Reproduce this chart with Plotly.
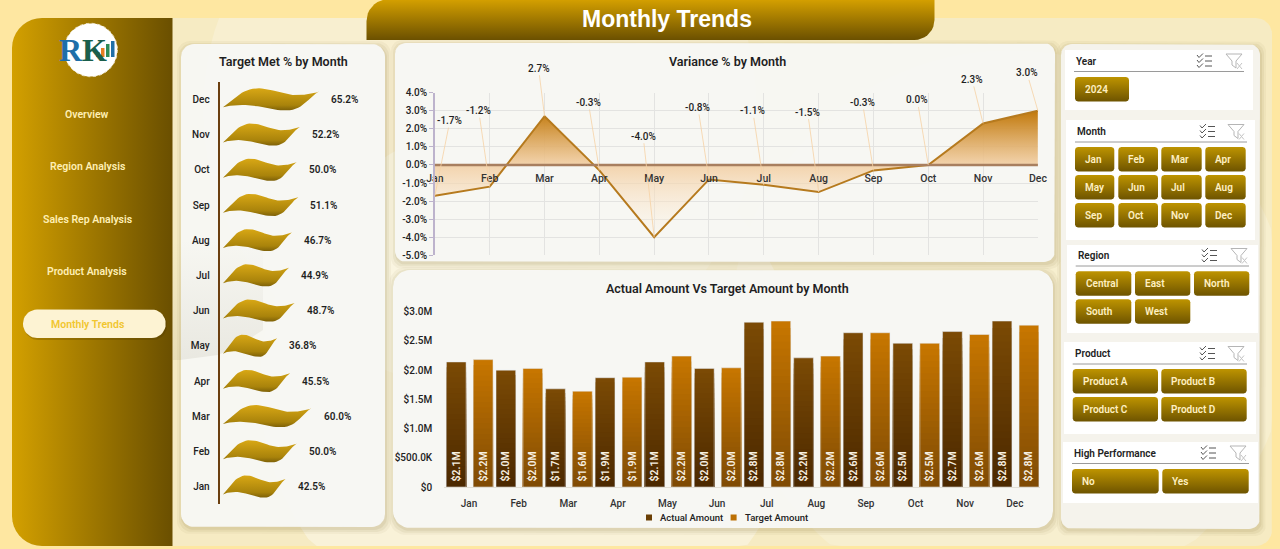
import numpy as np
import plotly.graph_objects as go

W, H = 1280, 549

MONTHS = ['Jan', 'Feb', 'Mar', 'Apr', 'May', 'Jun', 'Jul', 'Aug', 'Sep', 'Oct', 'Nov', 'Dec']
TARGET_MET_PCT = [42.5, 50.0, 60.0, 45.5, 36.8, 48.7, 44.9, 46.7, 51.1, 50.0, 52.2, 65.2]
VARIANCE_PCT = [-1.7, -1.2, 2.7, -0.3, -4.0, -0.8, -1.1, -1.5, -0.3, 0.0, 2.3, 3.0]
ACTUAL_M = [2.14, 2.00, 1.68, 1.87, 2.14, 2.03, 2.82, 2.21, 2.64, 2.46, 2.66, 2.84]
TARGET_M = [2.18, 2.03, 1.64, 1.88, 2.24, 2.04, 2.84, 2.24, 2.64, 2.46, 2.61, 2.77]

VARIANCE_TICKS = [4, 3, 2, 1, 0, -1, -2, -3, -4, -5]
AMOUNT_TICKS = [0, 0.5, 1.0, 1.5, 2.0, 2.5, 3.0]
AMOUNT_TICK_LABELS = ['$0', '$500.0K', '$1.0M', '$1.5M', '$2.0M', '$2.5M', '$3.0M']

NAV_ITEMS = ['Overview', 'Region Analysis', 'Sales Rep Analysis', 'Product Analysis', 'Monthly Trends']
YEARS = ['2024']
REGIONS = ['Central', 'East', 'North', 'South', 'West']
PRODUCTS = ['Product A', 'Product B', 'Product C', 'Product D']
HIGH_PERF = ['No', 'Yes']

# pixel offsets of the hand-placed variance labels, relative to their points
LABEL_DX = [15, -11, -6, -11, -11, -11, -11, -11, -11, -11, -11, -11]
LABEL_DY = [-75, -76, -48, -68, -101, -72, -74, -80, -68, -65, -44, -38]

FONT = 'Roboto'
DARK = '#1f1f1f'

fig = go.Figure()


def arc(cx, cy, r, a0, a1, n=10):
    t = np.radians(np.linspace(a0, a1, n))
    return cx + r * np.cos(t), cy + r * np.sin(t)


def rrect(x0, y0, x1, y1, r):
    """Rounded rectangle outline, r is one radius or (tl, tr, br, bl)."""
    tl, tr, br, bl = (r, r, r, r) if np.isscalar(r) else r
    parts = [arc(x0 + tl, y0 + tl, tl, 180, 270), arc(x1 - tr, y0 + tr, tr, 270, 360),
             arc(x1 - br, y1 - br, br, 0, 90), arc(x0 + bl, y1 - bl, bl, 90, 180)]
    xs = np.concatenate([p[0] for p in parts])
    ys = np.concatenate([p[1] for p in parts])
    return list(xs) + [xs[0]], list(ys) + [ys[0]]


def solid(xs, ys, color):
    fig.add_trace(go.Scatter(x=xs, y=ys, mode='lines', line=dict(width=0), fill='toself',
                             fillcolor=color, hoverinfo='skip', showlegend=False))


def gradient(xs, ys, c0, c1, horizontal=False):
    kind = 'horizontal' if horizontal else 'vertical'
    vals = xs if horizontal else ys
    fig.add_trace(go.Scatter(x=xs, y=ys, mode='lines', line=dict(width=0), fill='toself',
                             fillgradient=dict(type=kind, colorscale=[[0, c0], [1, c1]],
                                               start=min(vals), stop=max(vals)),
                             hoverinfo='skip', showlegend=False))


def note(x, y, text, size=11, color=DARK, anchor='center', family=FONT, weight=600):
    fig.add_annotation(x=x, y=y, xref='x', yref='y', text=text, showarrow=False, xanchor=anchor,
                       yanchor='middle', font=dict(family=family, size=size, color=color, weight=weight))


def card(x0, y0, x1, y1, r, color='rgba(248,248,245,0.97)'):
    for grow, alpha in ((5, 0.05), (3, 0.07), (1, 0.09)):
        xs, ys = rrect(x0 - grow + 1, y0 - grow + 2, x1 + grow + 1, y1 + grow + 2, r)
        solid(xs, ys, f'rgba(120,95,30,{alpha})')
    solid(*rrect(x0, y0, x1, y1, r), color)


def circle(cx, cy, r, color, clip=False):
    xs, ys = arc(cx, cy, r, 0, 360, 120)
    if clip:
        xs, ys = np.clip(xs, 172, 1272), np.clip(ys, 18, 546)
    solid(list(xs), list(ys), color)


# backdrop
solid(*rrect(12, 18, 1272, 546, (30, 16, 16, 30)), '#F6EBC3')
circle(530, 385, 270, 'rgba(255,255,255,0.35)', clip=True)
circle(480, 110, 277, 'rgba(255,255,255,0.22)', clip=True)
circle(1010, 330, 280, 'rgba(255,255,255,0.20)', clip=True)

# sidebar
gradient(*rrect(12, 18, 172.5, 546, (30, 0, 0, 30)), '#D3A000', '#6A4F00', horizontal=True)
for item, y in zip(NAV_ITEMS, [114, 166, 219, 271, 324]):
    if item == 'Monthly Trends':
        solid(*rrect(24, 311, 167, 340, 14), 'rgba(70,50,0,0.25)')
        solid(*rrect(23, 309.5, 165.7, 338, 14), '#FDF3D3')
        note(87, y, item, 10.5, '#F1C62F')
    else:
        note(87, y, item, 10.5, '#FFEFB4')

# logo, simplified
circle(90.7, 50, 26.7, 'white')
fig.add_shape(type='circle', x0=64, y0=23.3, x1=117.4, y1=76.7, xref='x', yref='y',
              line=dict(color='#EDE3C4', width=1, dash='dot'))
note(83, 50, '<span style="color:#1F6FA8">R</span>K', 32, '#1B5E4B', family='Liberation Serif', weight=700)
for bx, btop, bcolor in ((96, 52, '#C0392B'), (101, 48, '#E67E22'), (106, 44, '#2E8B57'), (111, 41, '#1F6FA8')):
    solid([bx, bx + 3.5, bx + 3.5, bx, bx], [btop, btop, 57, 57, btop], bcolor)

# title tab
gradient(*rrect(366.5, -1, 934.5, 40, (22, 0, 20, 0)), '#D6A100', '#6B5000')
note(667, 19, 'Monthly Trends', 23, 'white', family='Liberation Sans', weight=700)

# chart cards
card(181, 44, 385, 527, 13)
card(395, 43, 1055, 262, 11)
card(393, 270, 1053, 528, 17)
gradient([172.5, 263, 263, 240, 218, 180, 172.5, 172.5], [240, 240, 330, 345, 355, 360, 360, 240],
         'rgba(110,100,70,0)', 'rgba(110,100,70,0.10)')
note(283, 61.5, 'Target Met % by Month', 12.5)
note(727, 61.5, 'Variance % by Month', 12.5)
note(727, 288, 'Actual Amount Vs Target Amount by Month', 12.5)

# slicer panel
card(1061, 44, 1260, 529, 11, '#F5F3EC')


def check_icon(cx, cy):
    path = ''
    for dy in (-5, 0, 5):
        path += f'M{cx-7} {cy+dy-1} L{cx-5} {cy+dy+1.5} L{cx-1} {cy+dy-2.5} '
        path += f'M{cx+1} {cy+dy} L{cx+8} {cy+dy} '
    fig.add_shape(type='path', path=path, xref='x', yref='y', line=dict(color='#555555', width=1))


def funnel_icon(cx, cy):
    path = f'M{cx-8} {cy-7} L{cx+8} {cy-7} L{cx+2} {cy} L{cx+2} {cy+7} L{cx-2} {cy+4} L{cx-2} {cy} Z '
    path2 = f'M{cx+3} {cy+2} L{cx+8} {cy+8} M{cx+8} {cy+2} L{cx+3} {cy+8}'
    fig.add_shape(type='path', path=path, xref='x', yref='y', line=dict(color='#B5B5B5', width=1))
    fig.add_shape(type='path', path=path2, xref='x', yref='y', line=dict(color='#C4C4C4', width=1))


def slicer(box, title, tx, ty, line_x1, icon_x, items, col_x, row_y, btn_h=24.4):
    solid(*rrect(box[0], box[1], box[2], box[3], 0), 'white')
    note(tx, ty, title, 10, '#222222', anchor='left')
    fig.add_shape(type='line', x0=tx, x1=line_x1, y0=ty + 10.5, y1=ty + 10.5, xref='x', yref='y',
                  line=dict(color='#9A9A9A', width=1))
    check_icon(icon_x[0], ty)
    funnel_icon(icon_x[1], ty)
    n_cols = len(col_x)
    for i, item in enumerate(items):
        x0, x1 = col_x[i % n_cols]
        y0 = row_y[i // n_cols]
        gradient(*rrect(x0, y0, x1, y0 + btn_h, 3), '#BE9400', '#6E5400')
        note(x0 + 8, y0 + btn_h / 2, item, 10, '#FFF0C2', anchor='left')


slicer((1065, 50, 1253, 110), 'Year', 1074, 61, 1244, (1204, 1234), YEARS, [(1075, 1129)], [77])
slicer((1066, 120, 1255, 240), 'Month', 1075, 131.5, 1247, (1207, 1236), MONTHS,
       [(1075, 1114.3), (1118.3, 1158), (1161.3, 1201.7), (1205.3, 1245.7)], [147, 175, 203])
slicer((1067, 245, 1258, 333), 'Region', 1075.7, 255.5, 1249, (1209, 1239), REGIONS,
       [(1075.7, 1131.3), (1135, 1190.3), (1194, 1249.3)], [271.3, 299.3])
slicer((1064, 342, 1256, 434), 'Product', 1072.7, 353.5, 1247, (1207, 1236), PRODUCTS,
       [(1072.7, 1158), (1161.3, 1246.7)], [369, 397])
slicer((1063, 442, 1258, 503), 'High Performance', 1072, 453, 1249, (1208, 1238), HIGH_PERF,
       [(1072, 1158.7), (1162.3, 1248.7)], [469])


def bezier(p0, p1, p2, p3, n=16):
    t = np.linspace(0, 1, n)[:, None]
    p0, p1, p2, p3 = map(np.array, (p0, p1, p2, p3))
    return (1 - t) ** 3 * p0 + 3 * (1 - t) ** 2 * t * p1 + 3 * (1 - t) * t ** 2 * p2 + t ** 3 * p3


# the pictogram used for the "Target Met" bars: unit length, one row tall
WAVE = np.vstack([
    bezier((0, -.218), (.10, -.02), (.20, .33), (.375, .322)),
    bezier((.375, .322), (.52, .31), (.62, .14), (.75, .13)),
    bezier((.75, .13), (.85, .125), (.93, .17), (1, .227)),
    bezier((1, .227), (.90, .12), (.84, -.31), (.66, -.31)),
    bezier((.66, -.31), (.5, -.31), (.38, -.15), (.2, -.15)),
    bezier((.2, -.15), (.12, -.15), (.06, -.17), (0, -.218)),
])

for row, pct in enumerate(TARGET_MET_PCT):
    fig.add_trace(go.Scatter(
        x=WAVE[:, 0] * pct, y=WAVE[:, 1] + row, xaxis='x2', yaxis='y2', mode='lines',
        line=dict(width=0), fill='toself', hoverinfo='skip', showlegend=False,
        fillgradient=dict(type='vertical', colorscale=[[0, '#7A5E08'], [0.25, '#A9830B'], [1, '#D9A815']],
                          start=row - .32, stop=row + .33)))
    fig.add_annotation(x=pct, y=row, xref='x2', yref='y2', text=f'{pct:.1f}%', showarrow=False,
                       xanchor='left', xshift=10, font=dict(family=FONT, size=10, color=DARK, weight=600))

# variance area
fig.add_trace(go.Scatter(
    x=MONTHS, y=VARIANCE_PCT, xaxis='x3', yaxis='y3', mode='lines', fill='tozeroy',
    line=dict(color='#B67A1E', width=2), hoverinfo='skip', showlegend=False,
    fillgradient=dict(type='vertical', start=-4, stop=3,
                      colorscale=[[0, 'rgba(255,245,230,0.15)'], [0.57, 'rgba(242,205,160,0.85)'],
                                  [1, 'rgb(193,120,10)']])))
fig.add_shape(type='line', xref='x3 domain', yref='y3', x0=0, x1=1, y0=0, y1=0, layer='above',
              line=dict(color='#A87F5F', width=2.5))
fig.add_trace(go.Scatter(
    x=MONTHS, y=[-0.79] * len(MONTHS), xaxis='x3', yaxis='y3', mode='text', text=MONTHS, cliponaxis=False,
    textposition='middle center', textfont=dict(family=FONT, size=10.5, color='#333333', weight=500),
    hoverinfo='skip', showlegend=False))
for m, v, dx, dy in zip(MONTHS, VARIANCE_PCT, LABEL_DX, LABEL_DY):
    fig.add_annotation(x=m, y=v, xref='x3', yref='y3', text=f'{v:.1f}%', ax=dx, ay=dy, axref='pixel', ayref='pixel',
                       showarrow=True, arrowhead=0, arrowwidth=0.8, arrowcolor='#F6D2A4', standoff=0,
                       font=dict(family=FONT, size=10, color=DARK, weight=500))


# bars: no gradient fill on go.Bar, so each bar is a stack of shrinking overlays
def mix(c0, c1, t):
    return 'rgb(' + ','.join(str(int(a + (b - a) * t)) for a, b in zip(c0, c1)) + ')'


BAR_SERIES = [
    ('Actual Amount', ACTUAL_M, -0.456, (74, 40, 0), (123, 74, 5)),
    ('Target Amount', TARGET_M, 0.087, (125, 74, 5), (199, 118, 0)),
]
STEPS = 24
for name, vals, offset, bottom, top in BAR_SERIES:
    for k in range(STEPS, 0, -1):
        fig.add_trace(go.Bar(
            x=MONTHS, y=[v * k / STEPS for v in vals], xaxis='x4', yaxis='y4', width=0.397, offset=offset,
            marker=dict(color=mix(bottom, top, k / STEPS), line=dict(width=0)), name=name,
            showlegend=False, hoverinfo='skip'))
    fig.add_trace(go.Bar(
        x=MONTHS, y=vals, xaxis='x4', yaxis='y4', width=0.397, offset=offset, marker=dict(color='rgba(0,0,0,0)'),
        text=[f'\u00a0${v:.1f}M' for v in vals], textposition='inside', insidetextanchor='start', textangle=-90,
        insidetextfont=dict(family=FONT, size=10.5, color='#F7F0E2', weight=600), constraintext='none',
        showlegend=False, hoverinfo='skip'))

# legend row
for label, color, sx, tx in (('Actual Amount', '#6B3F05', 649, 658), ('Target Amount', '#BC7004', 733.6, 742.6)):
    fig.add_shape(type='rect', x0=sx - 3, x1=sx + 3, y0=514.5, y1=520.5, xref='x', yref='y',
                  fillcolor=color, line=dict(width=0))
    note(tx, 517.7, label, 9.5, '#222222', anchor='left', weight=500)


def dom_x(a, b):
    return [a / W, b / W]


def dom_y(top, bottom):
    return [1 - bottom / H, 1 - top / H]


hidden = dict(visible=False, fixedrange=True)
tick_font = dict(family=FONT, size=10, color='#222222', weight=500)
fig.update_layout(
    width=W, height=H, margin=dict(l=0, r=0, t=0, b=0, autoexpand=False), paper_bgcolor='#FEE7A1',
    plot_bgcolor='rgba(0,0,0,0)', barmode='overlay', showlegend=False, font=dict(family=FONT, color=DARK),
    xaxis=dict(range=[0, W], domain=[0, 1], **hidden),
    yaxis=dict(range=[H, 0], domain=[0, 1], **hidden),
    # target met
    xaxis2=dict(domain=dom_x(219.7, 380), range=[-2.2, 106.4], **hidden),
    yaxis2=dict(domain=dom_y(82, 504), range=[-0.49, 11.5], anchor='x2', tickvals=list(range(12)), ticktext=MONTHS,
                showgrid=False, zeroline=False, showline=True, linecolor='#6B3F10', linewidth=2, ticks='outside',
                ticklen=6, tickcolor='rgba(0,0,0,0)', tickfont=tick_font, fixedrange=True),
    # variance
    xaxis3=dict(domain=dom_x(434.9, 1037.9), range=[0, 11], anchor='y3', type='category', categoryorder='array',
                categoryarray=MONTHS, showticklabels=False, showgrid=True, gridcolor='#E3E3E1', gridwidth=1,
                zeroline=False, fixedrange=True, ticks=''),
    yaxis3=dict(domain=dom_y(92.7, 255.3), range=[-5, 4], anchor='x3', tickvals=VARIANCE_TICKS,
                ticktext=[f'{t:.1f}%' for t in VARIANCE_TICKS], showgrid=True, gridcolor='#E3E3E1', zeroline=False,
                showline=True, linecolor='#BDB3CC', linewidth=1.5, ticks='outside', ticklen=4, tickcolor='#BDB3CC',
                tickfont=tick_font, fixedrange=True),
    # amounts
    xaxis4=dict(domain=dom_x(444.2, 1039.6), range=[-0.5, 11.5], anchor='y4', type='category', categoryorder='array',
                categoryarray=MONTHS, showgrid=False, zeroline=False, showline=True, linecolor='#E2DFD6',
                ticks='outside', ticklen=7, tickcolor='rgba(0,0,0,0)', tickfont=dict(family=FONT, size=10, color='#333333', weight=500),
                fixedrange=True),
    yaxis4=dict(domain=dom_y(311.7, 487), range=[0, 3], anchor='x4', tickvals=AMOUNT_TICKS, ticktext=AMOUNT_TICK_LABELS,
                showgrid=False, zeroline=False, ticks='outside', ticklen=9, tickcolor='rgba(0,0,0,0)', tickfont=tick_font,
                fixedrange=True),
)

fig.write_html('out.html', config=dict(displayModeBar=False), post_script="document.body.style.margin='0';")
